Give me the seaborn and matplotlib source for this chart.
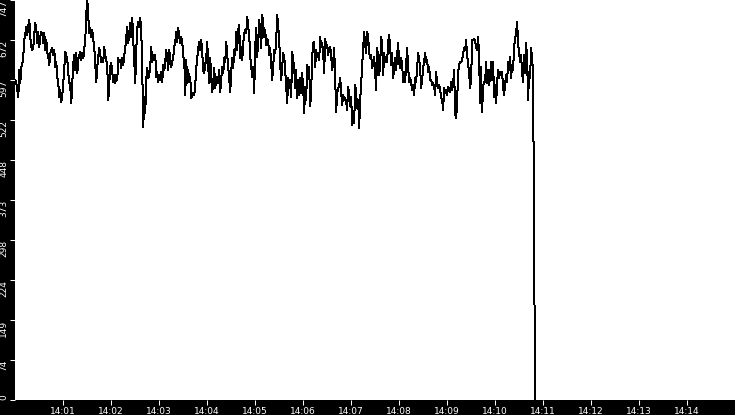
import numpy as np
import pandas as pd
import matplotlib
matplotlib.use("Agg")
import matplotlib.pyplot as plt
import matplotlib.dates as mdates
import seaborn as sns

# ---- data (one sample roughly every 1.25 s) ----
seg_a = [598, 592, 579, 566, 616, 592, 622, 626, 644, 672,
         685, 697, 682, 700, 710, 678, 659, 654, 659, 685,
         704, 691, 666, 687, 659, 678, 687, 685, 666, 685,
         654, 672, 648, 641, 626, 648, 654, 657, 644, 654,
         622, 631, 603, 592, 566, 579, 557, 570, 592, 622,
         650, 644, 635, 610, 594, 585, 555, 592, 629, 644,
         616, 648, 610, 635, 644, 650, 635, 648, 638, 657,
         672, 722, 747, 716, 685, 694, 678, 691, 672, 659,
         626, 594, 622, 641, 657, 644, 631, 638, 631]
seg_b = [659, 644, 635, 622, 560, 592, 622, 629, 613, 594,
         607, 592, 607, 598, 638, 631, 635, 620, 638, 626,
         644, 657, 678, 697, 666, 685, 704, 678, 713, 672,
         635, 592, 654, 694, 706, 697, 713, 691, 616, 510,
         566, 536, 598, 620, 601, 607, 622, 659, 631, 644,
         638, 644, 603, 613, 594, 607, 598, 613, 594, 626,
         616, 631, 654, 638, 616, 654, 638, 622, 631, 641,
         659, 669, 687, 669, 694, 678, 666, 678, 669, 641,
         638, 570, 635, 592, 616, 594, 604, 564, 570, 573]
seg_c = [570, 588, 620, 638, 657, 669, 654, 672, 648, 616,
         610, 626, 638, 669, 622, 592, 638, 601, 575, 592,
         620, 583, 598, 604, 592, 616, 575, 598, 622, 610,
         638, 631, 669, 644, 622, 601, 575, 613, 638, 620,
         654, 644, 687, 654, 691, 700, 638, 659, 635, 666,
         685, 691, 685, 716, 697, 682, 641, 622, 604, 622,
         573, 659, 694, 641, 672, 710, 685, 657, 719, 704,
         678, 691, 663, 675, 669, 644, 657, 626, 598, 622,
         654, 648, 672, 719, 697, 672, 626, 598, 622, 648]
seg_d = [641, 616, 585, 555, 601, 583, 598, 566, 650, 635,
         622, 583, 616, 564, 598, 570, 601, 573, 610, 583,
         536, 585, 560, 626, 616, 622, 548, 579, 641, 666,
         669, 622, 654, 641, 648, 635, 678, 659, 666, 648,
         610, 675, 657, 663, 644, 657, 659, 644, 616, 631,
         657, 601, 538, 573, 583, 585, 601, 575, 551, 570,
         560, 564, 557, 542, 585, 570, 548, 566, 514, 532,
         517, 588, 573, 545, 560, 508, 560, 592, 622, 654,
         688, 663, 648, 688, 678, 650, 638, 644, 620, 631]
seg_e = [641, 613, 579, 657, 641, 607, 626, 678, 663, 607,
         648, 631, 635, 631, 669, 682, 659, 626, 648, 601,
         620, 638, 616, 644, 666, 631, 620, 638, 626, 594,
         613, 594, 626, 657, 622, 594, 601, 592, 579, 588,
         570, 601, 594, 622, 648, 635, 620, 583, 598, 622,
         631, 648, 631, 635, 613, 622, 598, 598, 588, 592,
         585, 570, 613, 592, 583, 588, 579, 566, 560, 542,
         583, 573, 579, 570, 585, 579, 575, 594, 579, 592,
         616, 536, 526, 555, 613, 626, 631, 631, 635, 648]
seg_f = [657, 654, 672, 644, 626, 613, 583, 598, 672, 672,
         675, 669, 659, 654, 678, 641, 554, 622, 538, 585,
         594, 594, 631, 592, 616, 588, 607, 631, 598, 631,
         566, 588, 554, 592, 616, 601, 613, 607, 613, 583,
         570, 588, 607, 594, 631, 616, 641, 601, 626, 616,
         659, 675, 685, 706, 666, 648, 631, 644, 610, 594,
         644, 610, 666, 638, 560, 613, 601, 657, 638, 610]
seg_tail = [298, 0]

t_start = "2024-01-01 14:00:00"
t_end = "2024-01-01 14:10:50"
x_min = "2024-01-01 14:00:00"
x_max = "2024-01-01 14:15:00"
y_max = 747

values = seg_a + seg_b + seg_c + seg_d + seg_e + seg_f + seg_tail
df = pd.DataFrame({
    "time": pd.date_range(t_start, t_end, periods=len(values)),
    "value": values,
})

# ---- figure ----
W, H = 735, 415
fig = plt.figure(figsize=(W / 100, H / 100), dpi=100, facecolor="black")
ax = fig.add_axes([15.3 / W, 15 / H, (W - 15.3) / W, 400 / H])
ax.set_facecolor("white")

sns.lineplot(data=df, x="time", y="value", ax=ax, color="black",
             linewidth=0.72, estimator=None, antialiased=False)

ax.set_xlim(pd.Timestamp(x_min), pd.Timestamp(x_max))
ax.set_ylim(0, y_max)
ax.set_xlabel("")
ax.set_ylabel("")
for s in ax.spines.values():
    s.set_visible(False)

yt = np.linspace(0, y_max, 11)
ax.set_yticks(yt)
ax.set_yticklabels([str(int(v)) for v in yt])
ax.xaxis.set_major_locator(mdates.MinuteLocator(byminute=range(1, 15)))
ax.xaxis.set_major_formatter(mdates.DateFormatter("%H:%M"))

ax.tick_params(axis="both", colors="white", direction="out", length=3.6,
               width=0.75, labelsize=6.5, pad=1.5)
for lab in ax.get_yticklabels():
    lab.set_rotation(90)
    lab.set_va("top")
    lab.set_fontfamily("DejaVu Sans")
ax.get_yticklabels()[0].set_va("bottom")
for lab in ax.get_xticklabels():
    lab.set_fontfamily("DejaVu Sans")

fig.savefig("out.png", dpi=100, facecolor="black")
